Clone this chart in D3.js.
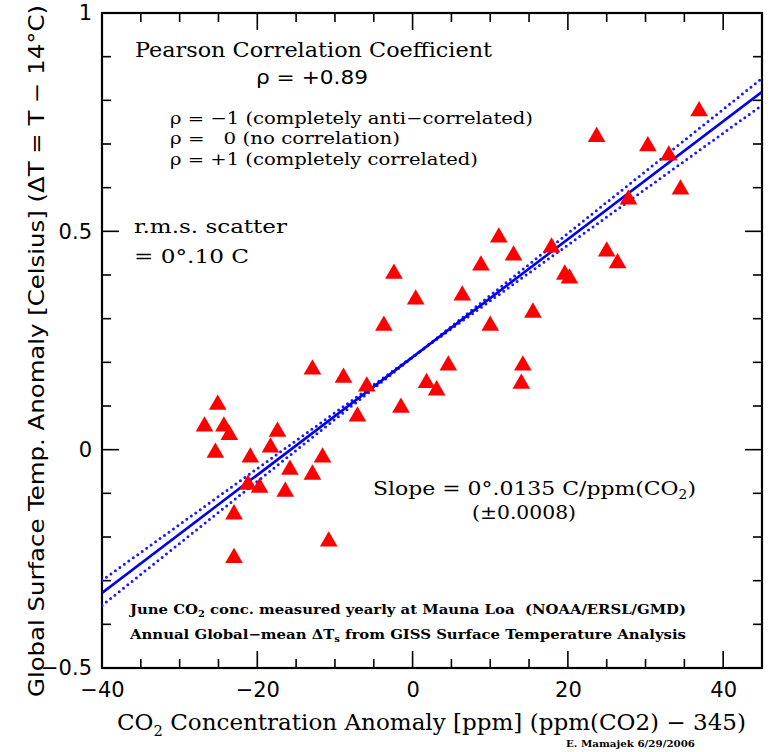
<!DOCTYPE html>
<html>
<head>
<meta charset="utf-8">
<script src="https://cdn.jsdelivr.net/npm/d3@7"></script>
<style>
  body { margin: 0; background: #fff; }
  svg { display: block; }
</style>
</head>
<body>
<svg width="770" height="752"></svg>
<script>
// data: CO2 anomaly (ppm) vs temp anomaly (C)
const co2Anom = [-26.8, -25.1, -24.3, -23.6, -25.4, -20.9, -18.3, -17.4, -15.8, -16.4,
                 -19.7, -21.2, -23.0, -23.0, -12.9, -12.9, -11.6, -10.8, -8.9, -7.1,
                 -5.9, -3.7, -2.4, -1.5, 0.4, 1.8, 3.1, 4.6, 6.4, 8.8,
                 10.0, 11.1, 13.0, 15.5, 14.2, 14.0, 17.9, 19.6, 20.2, 25.0,
                 26.4, 23.7, 27.8, 30.3, 33.0, 34.5, 36.9];
const tempAnom = [0.053, 0.103, 0.053, 0.034, -0.007, -0.018, 0.005, 0.041, -0.046, -0.096,
                  -0.087, -0.080, -0.148, -0.248, 0.184, -0.057, -0.018, -0.210, 0.165, 0.076,
                  0.145, 0.284, 0.403, 0.096, 0.344, 0.153, 0.136, 0.193, 0.353, 0.422,
                  0.284, 0.486, 0.445, 0.314, 0.193, 0.151, 0.463, 0.401, 0.392, 0.454,
                  0.427, 0.716, 0.573, 0.695, 0.674, 0.596, 0.775];

// linear fit
const fitSlope = 0.0135;
const fitIntercept = 0.212;
const bandSlopeErr = 0.0007;
const bandPivot = 1;

const xTickLabels = [-40, -20, 0, 20, 40];
const yTickLabels = [-0.5, 0, 0.5, 1];

const svg = d3.select('svg');
const pLeft = 102, pRight = 762, pTop = 13, pBottom = 668;

const xScale = d3.scaleLinear().domain([-40, 45]).range([pLeft, pRight]);
const yScale = d3.scaleLinear().domain([-0.5, 1]).range([pBottom, pTop]);

const serif = '"DejaVu Serif", serif';
const sans = '"DejaVu Sans", sans-serif';

// ticks, all pointing inward
const xMinor = d3.range(-40, 45.01, 5);
const yMinor = d3.range(-0.5, 1.001, 0.1);
const isMajorX = v => Math.abs(v % 20) < 1e-6;
const isMajorY = v => Math.abs(Math.round(v * 10) % 5) === 0;

const ticks = svg.append('g').attr('stroke', '#000').attr('stroke-width', 1.6);
xMinor.forEach(v => {
  const len = isMajorX(v) ? 17 : 9;
  ticks.append('line').attr('x1', xScale(v)).attr('x2', xScale(v)).attr('y1', pBottom).attr('y2', pBottom - len);
  ticks.append('line').attr('x1', xScale(v)).attr('x2', xScale(v)).attr('y1', pTop).attr('y2', pTop + len);
});
yMinor.forEach(v => {
  const len = isMajorY(v) ? 17 : 9;
  ticks.append('line').attr('y1', yScale(v)).attr('y2', yScale(v)).attr('x1', pLeft).attr('x2', pLeft + len);
  ticks.append('line').attr('y1', yScale(v)).attr('y2', yScale(v)).attr('x1', pRight).attr('x2', pRight - len);
});

// axis labels through d3 axes (tick lines drawn above)
const xAxis = svg.append('g')
  .attr('transform', `translate(0,${pBottom})`)
  .call(d3.axisBottom(xScale).tickValues(xTickLabels).tickSize(0).tickPadding(14).tickFormat(d3.format('')));
const yAxis = svg.append('g')
  .attr('transform', `translate(${pLeft},0)`)
  .call(d3.axisLeft(yScale).tickValues(yTickLabels).tickSize(0).tickPadding(10).tickFormat(d3.format('')));
[xAxis, yAxis].forEach(a => {
  a.select('.domain').remove();
  a.selectAll('text').style('font-family', sans).style('font-size', '21px').attr('fill', '#000');
});

// frame
svg.append('rect')
  .attr('x', pLeft).attr('y', pTop)
  .attr('width', pRight - pLeft).attr('height', pBottom - pTop)
  .attr('fill', 'none').attr('stroke', '#000').attr('stroke-width', 2.2);

const plot = svg.append('g');
plot.append('clipPath').attr('id', 'clip')
  .append('rect').attr('x', pLeft).attr('y', pTop).attr('width', pRight - pLeft).attr('height', pBottom - pTop);

// fit line and slope-error band
const xEnds = xScale.domain();
const fitLine = d3.line().x(d => xScale(d[0])).y(d => yScale(d[1]));
const yPivot = fitIntercept + fitSlope * bandPivot;
const lines = plot.append('g').attr('clip-path', 'url(#clip)');
[fitSlope + bandSlopeErr, fitSlope - bandSlopeErr].forEach(s => {
  lines.append('path')
    .attr('d', fitLine(xEnds.map(x => [x, yPivot + s * (x - bandPivot)])))
    .attr('fill', 'none').attr('stroke', '#1a1aff').attr('stroke-width', 3)
    .attr('stroke-linecap', 'round').attr('stroke-dasharray', '0,5.5');
});
lines.append('path')
  .attr('d', fitLine(xEnds.map(x => [x, fitIntercept + fitSlope * x])))
  .attr('fill', 'none').attr('stroke', '#0000ee').attr('stroke-width', 2.6);

// triangles
plot.selectAll('.pt')
  .data(co2Anom.map((x, i) => [x, tempAnom[i]]))
  .join('path')
  .attr('class', 'pt')
  .attr('d', d3.symbol(d3.symbolTriangle, 135))
  .attr('transform', d => `translate(${xScale(d[0])},${yScale(d[1])})`)
  .attr('fill', '#ff0000');

// annotations
function label(x, y, str, size, opts = {}) {
  const t = svg.append('text')
    .attr('x', x).attr('y', y)
    .style('font-family', opts.font || serif)
    .style('font-size', size + 'px')
    .style('font-weight', opts.bold ? 'bold' : 'normal')
    .style('white-space', 'pre')
    .attr('fill', '#000');
  if (opts.len) t.attr('textLength', opts.len).attr('lengthAdjust', 'spacingAndGlyphs');
  if (opts.anchor) t.attr('text-anchor', opts.anchor);
  return t.text(str);
}

label(135, 57, 'Pearson Correlation Coefficient', 20, {len: 357});
label(256, 84, 'ρ = +0.89', 20, {font: sans, len: 112});
label(170, 124, 'ρ = −1 (completely anti−correlated)', 17, {len: 363});
label(170, 144, 'ρ =   0 (no correlation)', 17, {len: 230});
label(170, 165, 'ρ = +1 (completely correlated)', 17, {len: 308});
label(134, 233, 'r.m.s. scatter', 18, {len: 153});
label(134, 263, '= 0°.10 C', 18, {len: 115});

const slopeText = label(373, 495, 'Slope = 0°.0135 C/ppm(CO', 19);
slopeText.append('tspan').attr('dy', 4).style('font-size', '12px').text('2');
slopeText.append('tspan').attr('dy', -4).text(')');
slopeText.attr('textLength', 323).attr('lengthAdjust', 'spacingAndGlyphs');
label(472, 519, '(±0.0008)', 19, {len: 104});

const note1 = label(130, 614, 'June CO', 13.5, {bold: true});
note1.append('tspan').attr('dy', 3).style('font-size', '9px').text('2');
note1.append('tspan').attr('dy', -3).text(' conc. measured yearly at Mauna Loa  (NOAA/ERSL/GMD)');
note1.attr('textLength', 556).attr('lengthAdjust', 'spacingAndGlyphs');

const note2 = label(130, 639, 'Annual Global−mean ΔT', 13.5, {bold: true});
note2.append('tspan').attr('dy', 3).style('font-size', '9px').text('s');
note2.append('tspan').attr('dy', -3).text(' from GISS Surface Temperature Analysis');
note2.attr('textLength', 556).attr('lengthAdjust', 'spacingAndGlyphs');

const xTitle = label(117, 730, 'CO', 22);
xTitle.append('tspan').attr('dy', 6).style('font-size', '14px').text('2');
xTitle.append('tspan').attr('dy', -6).text(' Concentration Anomaly [ppm] (ppm(CO2) − 345)');
xTitle.attr('textLength', 629).attr('lengthAdjust', 'spacingAndGlyphs');

label(566, 747, 'E. Mamajek 6/29/2006', 9.5, {bold: true, len: 129});

svg.append('text')
  .attr('transform', 'translate(44,697) rotate(-90)')
  .attr('textLength', 692).attr('lengthAdjust', 'spacingAndGlyphs')
  .style('font-family', sans).style('font-size', '21px').attr('fill', '#000')
  .text('Global Surface Temp. Anomaly [Celsius] (ΔT = T − 14°C)');
</script>
</body>
</html>
